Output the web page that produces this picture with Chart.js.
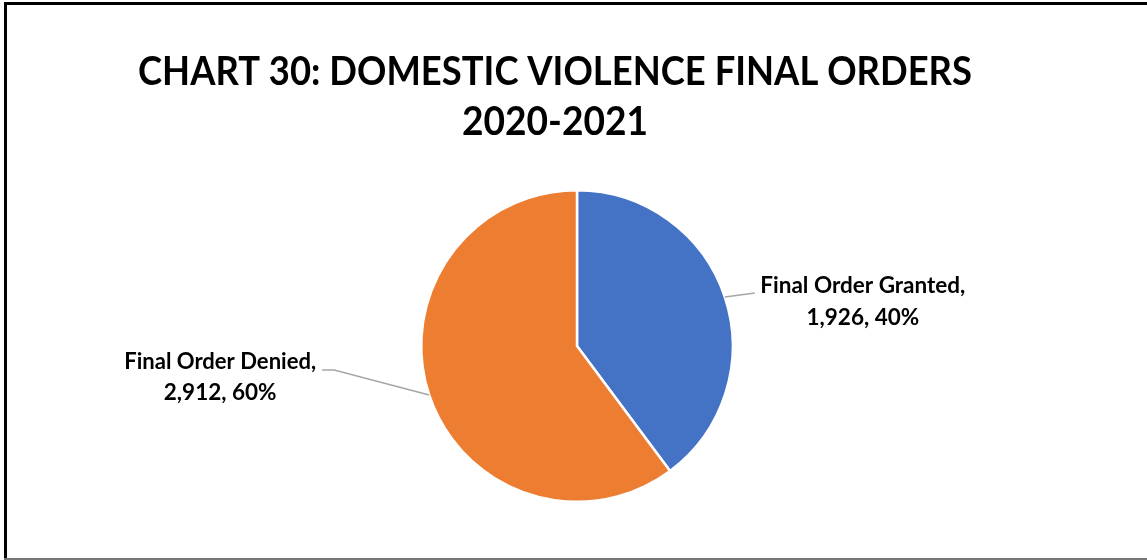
<!DOCTYPE html>
<html>
<head>
<meta charset="utf-8">
<script src="https://cdn.jsdelivr.net/npm/chart.js@4.4.0/dist/chart.umd.min.js"></script>
<style>
  html, body { margin: 0; padding: 0; background: #fff; }
  #wrap { width: 1147px; height: 560px; position: relative; }
</style>
</head>
<body>
<div id="wrap"><canvas id="chart"></canvas></div>
<script>
const categories = ['Final Order Granted', 'Final Order Denied'];
const counts = [1926, 2912];
const titleLines = ['CHART 30: DOMESTIC VIOLENCE FINAL ORDERS', '2020-2021'];
const sliceColors = ['#4472C4', '#ED7D31'];

const total = counts.reduce((a, b) => a + b, 0);

// frame + title drawn straight on the canvas
const frameAndTitle = {
  id: 'frameAndTitle',
  beforeDraw: (chart) => {
    const { ctx } = chart;
    ctx.save();
    ctx.fillStyle = '#fff';
    ctx.fillRect(0, 0, chart.width, chart.height);
    ctx.fillStyle = '#000';
    ctx.fillRect(4, 2, chart.width - 4, 3);
    ctx.fillRect(4, 2, 3, chart.height - 2);
    ctx.fillStyle = '#777';
    ctx.fillRect(4, chart.height - 2, chart.width - 4, 2);
    ctx.restore();
  },
  afterDraw: (chart) => {
    const { ctx } = chart;
    ctx.save();
    ctx.fillStyle = '#000';
    ctx.textAlign = 'center';
    ctx.textBaseline = 'alphabetic';
    ctx.font = 'bold 41px Lato';
    ctx.fillText(titleLines[0], 555, 85, 834);
    ctx.fillText(titleLines[1], 555, 135, 186);
    ctx.restore();
  }
};

// data labels with leader lines
const leaderLabels = {
  id: 'leaderLabels',
  afterDatasetsDraw: (chart) => {
    const { ctx } = chart;
    const meta = chart.getDatasetMeta(0);
    ctx.save();
    ctx.font = 'bold 22.5px Lato';
    ctx.fillStyle = '#000';
    ctx.textBaseline = 'middle';
    meta.data.forEach((arc, i) => {
      const mid = (arc.startAngle + arc.endAngle) / 2;
      const ax = arc.x + Math.cos(mid) * arc.outerRadius;
      const ay = arc.y + Math.sin(mid) * arc.outerRadius;
      const pct = Math.round(counts[i] / total * 100);
      const l1 = categories[i] + ',';
      const l2 = counts[i].toLocaleString('en-US') + ', ' + pct + '%';
      const right = Math.cos(mid) >= 0;
      ctx.strokeStyle = '#A6A6A6';
      ctx.lineWidth = 1.5;
      ctx.beginPath();
      ctx.textAlign = 'center';
      if (right) {
        const ex = ax + 30, ey = ay - 4;
        ctx.moveTo(ax, ay);
        ctx.lineTo(ex, ey);
        ctx.stroke();
        const w = 206;
        const cx = ex + 5 + w / 2;
        ctx.fillText(l1, cx, ey - 7, w);
        ctx.fillText(l2, cx, ey + 25);
      } else {
        const ex = ax - 95, ey = ay - 25;
        ctx.moveTo(ax, ay);
        ctx.lineTo(ex, ey);
        ctx.lineTo(ex - 12, ey);
        ctx.stroke();
        const w = 192;
        const cx = ex - 18 - w / 2;
        ctx.fillText(l1, cx, ey - 8, w);
        ctx.fillText(l2, cx, ey + 23);
      }
    });
    ctx.restore();
  }
};

new Chart(document.getElementById('chart'), {
  type: 'pie',
  data: {
    labels: categories,
    datasets: [{
      data: counts,
      backgroundColor: sliceColors,
      borderColor: '#fff',
      borderWidth: 2.5
    }]
  },
  options: {
    responsive: true,
    maintainAspectRatio: false,
    animation: false,
    layout: {
      padding: { top: 189, bottom: 57, left: 420, right: 413 }
    },
    plugins: {
      legend: { display: false },
      title: { display: false },
      tooltip: { enabled: false }
    }
  },
  plugins: [frameAndTitle, leaderLabels]
});
</script>
</body>
</html>
